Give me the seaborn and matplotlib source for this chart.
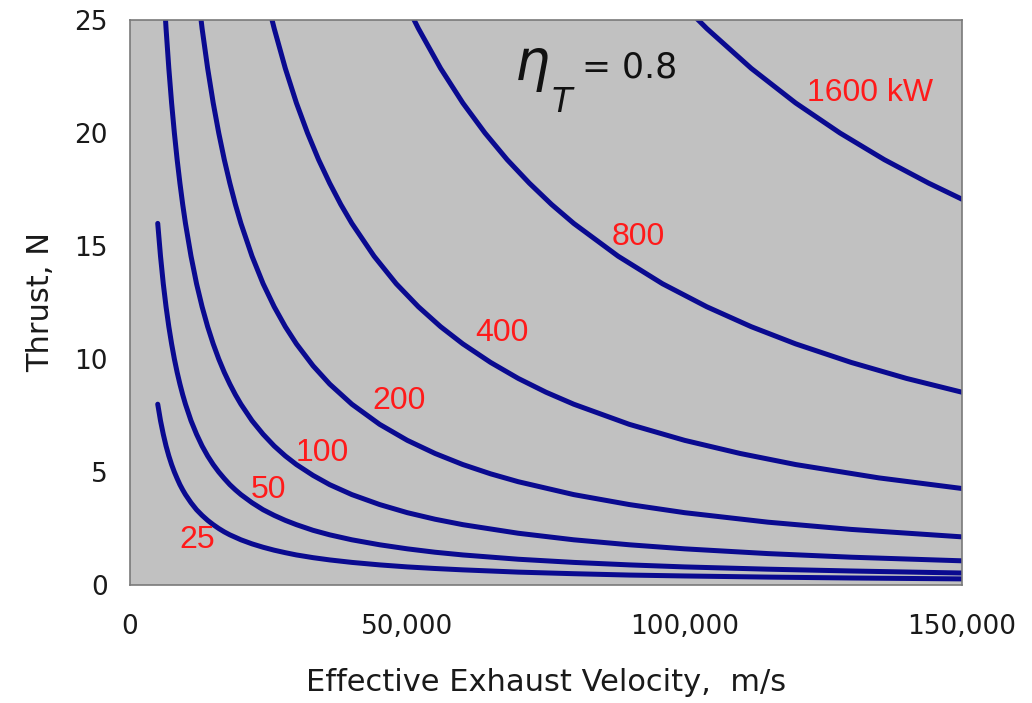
import matplotlib
matplotlib.use("Agg")
import matplotlib.pyplot as plt
import matplotlib.ticker as mticker
import numpy as np
import pandas as pd
import seaborn as sns

# ---- data (thrust N vs effective exhaust velocity m/s) ----
power_labels = ["25", "50", "100", "200", "400", "800", "1600 kW"]

v_25 = [5000, 5500, 6000, 6500, 7000, 7500, 8000, 8500, 9000, 9500, 10000, 11000, 12000, 13000,
        14000, 15000, 16000, 17000, 18000, 19000, 20000, 22000, 24000, 26000, 28000, 30000, 33000,
        36000, 40000, 45000, 50000, 55000, 60000, 70000, 80000, 90000, 100000, 115000, 130000, 150000]
t_25 = [8.00, 7.27, 6.67, 6.15, 5.71, 5.33, 5.00, 4.71, 4.44, 4.21, 4.00, 3.64, 3.33, 3.08,
        2.86, 2.67, 2.50, 2.35, 2.22, 2.11, 2.00, 1.82, 1.67, 1.54, 1.43, 1.33, 1.21,
        1.11, 1.00, 0.89, 0.80, 0.73, 0.67, 0.57, 0.50, 0.44, 0.40, 0.35, 0.31, 0.27]

v_50 = [5000, 5500, 6000, 6500, 7000, 7500, 8000, 8500, 9000, 9500, 10000, 11000, 12000, 13000,
        14000, 15000, 16000, 17000, 18000, 19000, 20000, 22000, 24000, 26000, 28000, 30000, 33000,
        36000, 40000, 45000, 50000, 55000, 60000, 70000, 80000, 90000, 100000, 115000, 130000, 150000]
t_50 = [16.00, 14.55, 13.33, 12.31, 11.43, 10.67, 10.00, 9.41, 8.89, 8.42, 8.00, 7.27, 6.67, 6.15,
        5.71, 5.33, 5.00, 4.71, 4.44, 4.21, 4.00, 3.64, 3.33, 3.08, 2.86, 2.67, 2.42,
        2.22, 2.00, 1.78, 1.60, 1.45, 1.33, 1.14, 1.00, 0.89, 0.80, 0.70, 0.62, 0.53]

v_100 = [6000, 6500, 7000, 7500, 8000, 8500, 9000, 9500, 10000, 11000, 12000, 13000, 14000, 15000,
         16000, 17000, 18000, 19000, 20000, 22000, 24000, 26000, 28000, 30000, 33000, 36000, 40000,
         45000, 50000, 55000, 60000, 70000, 80000, 90000, 100000, 115000, 130000, 150000]
t_100 = [26.67, 24.62, 22.86, 21.33, 20.00, 18.82, 17.78, 16.84, 16.00, 14.55, 13.33, 12.31, 11.43, 10.67,
         10.00, 9.41, 8.89, 8.42, 8.00, 7.27, 6.67, 6.15, 5.71, 5.33, 4.85, 4.44, 4.00,
         3.56, 3.20, 2.91, 2.67, 2.29, 2.00, 1.78, 1.60, 1.39, 1.23, 1.07]

v_200 = [12000, 13000, 14000, 15000, 16000, 17000, 18000, 19000, 20000, 22000, 24000, 26000, 28000,
         30000, 33000, 36000, 40000, 45000, 50000, 55000, 60000, 65000, 70000, 80000, 90000, 100000,
         115000, 130000, 150000]
t_200 = [26.67, 24.62, 22.86, 21.33, 20.00, 18.82, 17.78, 16.84, 16.00, 14.55, 13.33, 12.31, 11.43,
         10.67, 9.70, 8.89, 8.00, 7.11, 6.40, 5.82, 5.33, 4.92, 4.57, 4.00, 3.56, 3.20,
         2.78, 2.46, 2.13]

v_400 = [25000, 26000, 28000, 30000, 32000, 34000, 36000, 38000, 40000, 44000, 48000, 52000, 56000,
         60000, 65000, 70000, 75000, 80000, 90000, 100000, 110000, 120000, 135000, 150000]
t_400 = [25.60, 24.62, 22.86, 21.33, 20.00, 18.82, 17.78, 16.84, 16.00, 14.55, 13.33, 12.31, 11.43,
         10.67, 9.85, 9.14, 8.53, 8.00, 7.11, 6.40, 5.82, 5.33, 4.74, 4.27]

v_800 = [50000, 52000, 56000, 60000, 64000, 68000, 72000, 76000, 80000, 88000, 96000, 104000,
         112000, 120000, 130000, 140000, 150000]
t_800 = [25.60, 24.62, 22.86, 21.33, 20.00, 18.82, 17.78, 16.84, 16.00, 14.55, 13.33, 12.31,
         11.43, 10.67, 9.85, 9.14, 8.53]

v_1600 = [100000, 104000, 112000, 120000, 128000, 136000, 144000, 150000]
t_1600 = [25.60, 24.62, 22.86, 21.33, 20.00, 18.82, 17.78, 17.07]

# label anchor positions (data coords)
label_x = [12100, 24900, 34600, 48500, 67100, 91600, 133400]
label_y = [1.99, 4.20, 5.84, 8.14, 11.15, 15.40, 21.77]

series = [(v_25, t_25), (v_50, t_50), (v_100, t_100), (v_200, t_200),
          (v_400, t_400), (v_800, t_800), (v_1600, t_1600)]

rows = []
for lab, (vs, ts) in zip(power_labels, series):
    for v, t in zip(vs, ts):
        rows.append({"power": lab, "v": v, "T": t})
df = pd.DataFrame(rows)

sns.set_theme(style="white")
plt.rcParams['font.family'] = ['DejaVu Sans']
plt.rcParams['mathtext.fontset'] = 'dejavusans'

fig = plt.figure(figsize=(10.32, 7.03), dpi=100)
ax = fig.add_axes([130 / 1032, 1 - 585 / 703, 832 / 1032, 565 / 703])
ax.set_facecolor("#c1c1c1")

line_color = "#0a0a90"
sns.lineplot(data=df, x="v", y="T", hue="power", units="power", estimator=None,
             palette=[line_color] * len(power_labels), legend=False,
             linewidth=3.6, ax=ax, sort=True)

ax.set_xlim(0, 150000)
ax.set_ylim(0, 25)
ax.set_xticks([0, 50000, 100000, 150000])
ax.set_yticks([0, 5, 10, 15, 20, 25])
ax.xaxis.set_major_formatter(mticker.FuncFormatter(lambda x, p: f"{int(x):,}"))

for s in ax.spines.values():
    s.set_color("#7a7a7a")
    s.set_linewidth(1.2)
ax.tick_params(axis="both", direction="out", length=5, width=1, color="#7a7a7a",
               labelsize=19, labelcolor="#1a1a1a")
ax.tick_params(axis="x", pad=16)
ax.tick_params(axis="y", pad=11)

ax.set_xlabel("Effective Exhaust Velocity,  m/s", fontsize=22, color="#1a1a1a", labelpad=20)
ax.set_ylabel("Thrust, N", fontsize=22, color="#1a1a1a", labelpad=14)

for lab, x, y in zip(power_labels, label_x, label_y):
    ax.text(x, y, lab, color="#ff1a1a", fontsize=23, family="Liberation Sans",
            ha="center", va="center")

fig.text(514 / 1032, 1 - 80 / 703, r"$\eta$", fontsize=40,
         ha="left", va="baseline", color="#111111")
fig.text(551 / 1032, 1 - 112 / 703, r"$T$", fontsize=24,
         ha="left", va="baseline", color="#111111")
fig.text(582 / 1032, 1 - 78 / 703, "= 0.8", fontsize=25,
         ha="left", va="baseline", color="#111111")

fig.savefig("out.png", dpi=100, facecolor="white")
